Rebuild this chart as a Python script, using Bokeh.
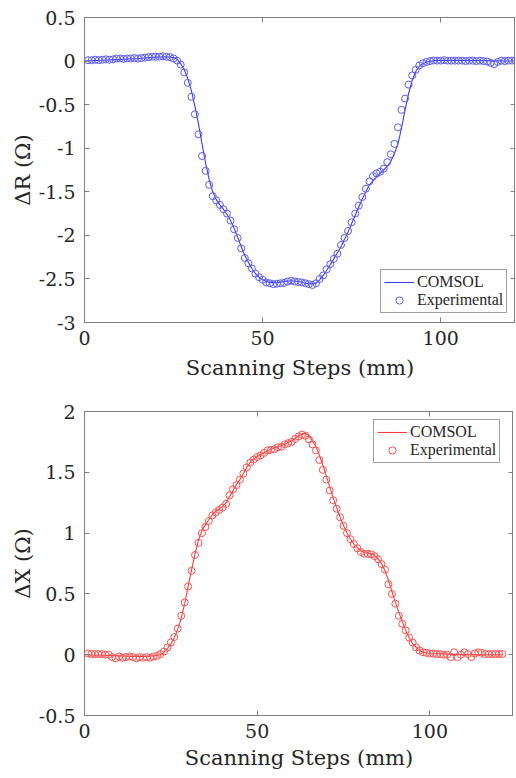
from bokeh.plotting import figure
from bokeh.models import (FixedTicker, Range1d, LinearAxis, Legend, LegendItem,
                          CustomJSTickFormatter, ColumnDataSource)
from bokeh.layouts import column
from bokeh.embed import file_html
from bokeh.resources import INLINE

# ---------------- data ----------------
x_label = "Scanning Steps (mm)"
top_ylabel = "\u0394R (\u03a9)"
bot_ylabel = "\u0394X (\u03a9)"
x_ticks = [0, 50, 100]
top_yticks = [-3, -2.5, -2, -1.5, -1, -0.5, 0, 0.5]
bot_yticks = [-0.5, 0, 0.5, 1, 1.5, 2]

# top panel (Delta R)
top_comsol_x = [0, 5, 10, 15, 20, 23,
                25, 26, 27, 28, 29, 30, 31, 32, 33, 34, 35, 36, 37, 38, 39, 40,
                41, 42, 43, 44, 45, 46, 47, 48, 49, 50,
                52, 54, 56, 58, 60, 62, 64,
                65, 66, 67, 68,
                70, 72, 74, 76, 78, 80, 82,
                84,
                85, 86, 87, 88, 89, 90, 91, 92, 93, 94, 95, 96,
                98, 100, 110, 121]
top_comsol_y = [0.0, 0.01, 0.02, 0.03, 0.045, 0.05,
                0.04, 0.02, -0.03, -0.1, -0.2, -0.34, -0.52, -0.72, -0.95, -1.17, -1.36, -1.5, -1.59, -1.65, -1.7, -1.76,
                -1.83, -1.92, -2.02, -2.13, -2.23, -2.31, -2.38, -2.44, -2.48, -2.51,
                -2.54, -2.545, -2.53, -2.52, -2.53, -2.55, -2.56,
                -2.55, -2.51, -2.46, -2.40,
                -2.27, -2.13, -1.96, -1.77, -1.58, -1.42, -1.33,
                -1.25,
                -1.21, -1.15, -1.06, -0.95, -0.77, -0.56, -0.37, -0.22, -0.12, -0.06, -0.03, -0.01,
                0.005, 0.01, 0.005, 0.0]

top_exp_y = [0.01, 0.01, 0.015, 0.01, 0.015, 0.02, 0.015, 0.02, 0.03, 0.03,
             0.025, 0.03, 0.03, 0.035, 0.03, 0.035, 0.04, 0.045, 0.05, 0.05,
             0.05, 0.055, 0.05, 0.045, 0.03, 0.005, -0.04, -0.13, -0.25, -0.41,
             -0.61, -0.84, -1.09, -1.26, -1.42, -1.55, -1.6, -1.65, -1.7, -1.75,
             -1.83, -1.93, -2.03, -2.15, -2.26, -2.32, -2.38, -2.44, -2.48, -2.51,
             -2.54, -2.55, -2.56, -2.555, -2.55, -2.545, -2.53, -2.52, -2.53, -2.535,
             -2.54, -2.55, -2.56, -2.57, -2.55, -2.5, -2.46, -2.39, -2.33, -2.27,
             -2.21, -2.11, -2.03, -1.95, -1.85, -1.75, -1.66, -1.56, -1.465, -1.38,
             -1.32, -1.29, -1.27, -1.235, -1.16, -1.07, -0.95, -0.76, -0.56, -0.43,
             -0.27, -0.165, -0.1, -0.05, -0.025, -0.01, 0.0, 0.007, 0.005, 0.005,
             0.01, 0.005, 0.005, 0.005, 0.005, 0.005, 0.0, 0.005, 0.005, 0.0,
             0.005, 0.0, -0.005, -0.02, -0.035, -0.01, 0.005, 0.0, 0.005, 0.005,
             0.005]
top_exp_x = list(range(1, len(top_exp_y) + 1))

# bottom panel (Delta X)
bot_comsol_x = [0, 5, 10, 15, 18, 20, 22,
                23, 24, 25, 26, 27, 28, 29, 30, 31, 32, 33, 34, 35, 36, 37, 38, 39, 40,
                41, 42, 43, 44, 45, 46, 47, 48, 49, 50,
                52, 54, 56, 58, 60, 62,
                63, 64, 65, 66, 67, 68, 69, 70, 71, 72, 73, 74, 75, 76, 77, 78, 79, 80,
                81, 82, 83, 84, 85, 86, 87, 88, 89, 90, 91, 92, 93, 94, 95, 96, 97, 98,
                100, 105, 110, 121]
bot_comsol_y = [0.0, -0.005, -0.01, -0.015, -0.015, -0.01, 0.0,
                0.02, 0.05, 0.09, 0.14, 0.21, 0.3, 0.42, 0.56, 0.7, 0.83, 0.94, 1.02, 1.07, 1.11, 1.15, 1.18, 1.2, 1.22,
                1.25, 1.3, 1.35, 1.4, 1.44, 1.49, 1.54, 1.58, 1.61, 1.63,
                1.66, 1.69, 1.71, 1.73, 1.76, 1.8,
                1.815, 1.82, 1.8, 1.76, 1.71, 1.64, 1.56, 1.47, 1.38, 1.29, 1.21, 1.13, 1.06, 1.0, 0.95, 0.91, 0.88, 0.855,
                0.84, 0.835, 0.83, 0.815, 0.79, 0.75, 0.69, 0.61, 0.52, 0.43, 0.35, 0.27, 0.2, 0.14, 0.09, 0.06, 0.035, 0.02,
                0.01, 0.005, 0.0, 0.0]

bot_exp_y = [0.01, 0.005, 0.005, 0.005, 0.005, 0.0, 0.0, -0.02, -0.03, -0.015,
             -0.025, -0.02, -0.015, -0.02, -0.03, -0.02, -0.025, -0.02, -0.025, -0.015,
             -0.01, 0.005, 0.025, 0.06, 0.1, 0.145, 0.215, 0.32, 0.43, 0.56,
             0.69, 0.82, 0.92, 1.0, 1.05, 1.1, 1.145, 1.17, 1.19, 1.21,
             1.24, 1.31, 1.36, 1.395, 1.44, 1.49, 1.54, 1.58, 1.605, 1.625,
             1.64, 1.66, 1.68, 1.685, 1.69, 1.705, 1.71, 1.73, 1.74, 1.75,
             1.775, 1.795, 1.81, 1.8, 1.77, 1.73, 1.68, 1.6, 1.52, 1.44,
             1.35, 1.27, 1.2, 1.13, 1.06, 1.0, 0.95, 0.91, 0.875, 0.845,
             0.83, 0.83, 0.825, 0.81, 0.785, 0.745, 0.7, 0.58, 0.5, 0.42,
             0.32, 0.254, 0.2, 0.14, 0.1, 0.06, 0.035, 0.02, 0.015, 0.01,
             0.01, 0.005, 0.005, 0.0, 0.0, -0.02, 0.02, -0.02, 0.0, 0.02,
             0.005, -0.02, 0.01, 0.02, 0.015, 0.005, 0.005, 0.005, 0.005, 0.005,
             0.005]
bot_exp_x = list(range(1, len(bot_exp_y) + 1))

# ---------------- styling ----------------
FONT = "Liberation Serif"      # legend text
AXIS_FONT = "DejaVu Serif"     # axis text
AXIS_COLOR = "#7f7f7f"
TEXT_COLOR = "#262626"
fmt = CustomJSTickFormatter(code="return tick.toString();")
blank_fmt = CustomJSTickFormatter(code="return '';")


def make_panel(xr, yr, fw, fh, yticks, ylabel, line_x, line_y, exp_x, exp_y,
               line_color, dot_color, legend_loc, mb_top, mb_bottom, xlabel_standoff):
    p = figure(frame_width=fw, frame_height=fh, x_range=Range1d(*xr), y_range=Range1d(*yr),
               output_backend="svg", toolbar_location=None,
               min_border_left=84, min_border_right=0, min_border_top=mb_top,
               min_border_bottom=mb_bottom)
    p.xgrid.visible = False
    p.ygrid.visible = False
    p.outline_line_color = AXIS_COLOR
    p.background_fill_color = "white"
    p.border_fill_color = "white"

    # box ticks on top / right (no labels)
    for loc, tk in (("above", x_ticks), ("right", yticks)):
        ax = LinearAxis(ticker=FixedTicker(ticks=tk), formatter=blank_fmt,
                        major_label_text_font_size="1px", major_label_text_font=AXIS_FONT,
                        major_label_standoff=0, major_tick_in=5, major_tick_out=0,
                        minor_tick_line_color=None, axis_line_color=None,
                        major_tick_line_color=AXIS_COLOR)
        p.add_layout(ax, loc)

    xa = p.below[0]
    ya = p.left[0]
    xa.ticker = FixedTicker(ticks=x_ticks)
    ya.ticker = FixedTicker(ticks=yticks)
    xa.axis_label = x_label
    ya.axis_label = ylabel
    for ax in (xa, ya):
        ax.formatter = fmt
        ax.axis_line_color = AXIS_COLOR
        ax.major_tick_line_color = AXIS_COLOR
        ax.major_tick_in = 5
        ax.major_tick_out = 0
        ax.minor_tick_line_color = None
        ax.major_label_text_font = AXIS_FONT
        ax.major_label_text_font_size = "19px"
        ax.major_label_text_color = TEXT_COLOR
        ax.axis_label_text_font = AXIS_FONT
        ax.axis_label_text_font_size = "21px"
        ax.axis_label_text_font_style = "normal"
        ax.axis_label_text_color = TEXT_COLOR
    xa.major_label_standoff = 8
    xa.axis_label_standoff = xlabel_standoff
    ya.major_label_standoff = 9
    ya.axis_label_standoff = 1

    lr = p.line(line_x, line_y, line_color=line_color, line_width=1.1)
    src = ColumnDataSource(dict(x=exp_x, y=exp_y))
    cr = p.scatter("x", "y", source=src, marker="circle", size=7, fill_color=None,
                   line_color=dot_color, line_width=1)

    leg = Legend(items=[LegendItem(label="COMSOL", renderers=[lr]),
                        LegendItem(label="Experimental", renderers=[cr])],
                 location=legend_loc)
    leg.label_text_font = FONT
    leg.label_text_font_size = "16px"
    leg.label_text_color = TEXT_COLOR
    leg.border_line_color = "#404040"
    leg.border_line_width = 1
    leg.background_fill_color = "white"
    leg.padding = 3
    leg.spacing = 0
    leg.margin = 0
    leg.label_height = 18
    leg.glyph_height = 18
    leg.glyph_width = 30
    leg.label_standoff = 3
    p.add_layout(leg)
    return p


p1 = make_panel((0, 121), (-3, 0.5), 431, 305, top_yticks, top_ylabel,
                top_comsol_x, top_comsol_y, top_exp_x, top_exp_y,
                "#3c3cff", "#5a5aff", (296, 9), 17, 72, 8)
p2 = make_panel((0, 124.2), (-0.5, 2), 429, 304, bot_yticks, bot_ylabel,
                bot_comsol_x, bot_comsol_y, bot_exp_x, bot_exp_y,
                "#ff3c3c", "#ff5050", (289, 252), 17, 56, 5)

layout = column(p1, p2, spacing=0)
open("out.html", "w").write(file_html(layout, INLINE))
